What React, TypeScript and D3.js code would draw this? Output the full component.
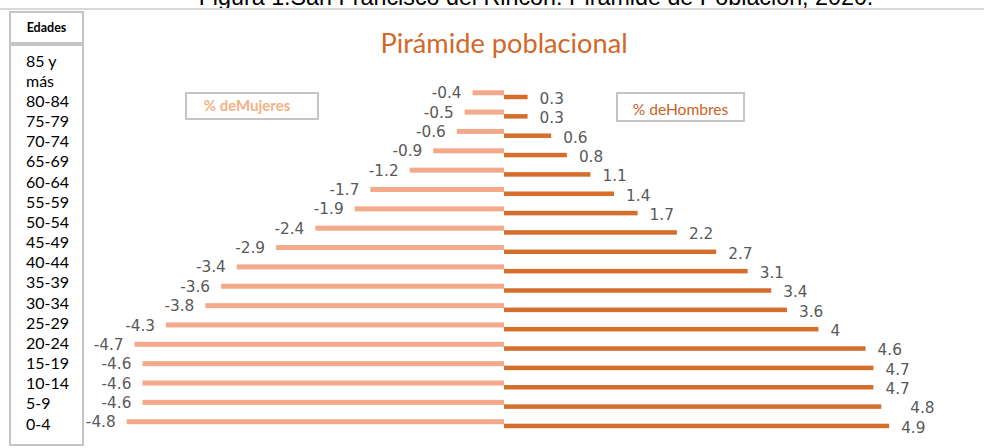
import React from "react";
import * as d3 from "d3";

const ageGroups = [
  "85 y más", "80-84", "75-79", "70-74", "65-69", "60-64", "55-59", "50-54", "45-49",
  "40-44", "35-39", "30-34", "25-29", "20-24", "15-19", "10-14", "5-9", "0-4",
];
const mujeres = [-0.4, -0.5, -0.6, -0.9, -1.2, -1.7, -1.9, -2.4, -2.9, -3.4, -3.6, -3.8, -4.3, -4.7, -4.6, -4.6, -4.6, -4.8];
const hombres = [0.3, 0.3, 0.6, 0.8, 1.1, 1.4, 1.7, 2.2, 2.7, 3.1, 3.4, 3.6, 4, 4.6, 4.7, 4.7, 4.8, 4.9];
const seriesNames = ["% deMujeres", "% deHombres"];
const chartTitle = "Pirámide poblacional";
const figureTitle = "Figura 1.San Francisco del Rincón: Pirámide de Población, 2020.";
const axisTitle = "Edades";

const W = 984;
const H = 448;
const COL_F = "#F4AA8A";
const COL_M = "#D56D2B";
const LABEL_COL = "#595959";
const BOX_COL = "#C4C4C4";
const labelFont = "'DejaVu Sans', sans-serif";
const textFont = "Lato, 'Liberation Sans', sans-serif";

// manual label nudges (as in the source chart)
const maleLabelExtra: Record<string, number> = { "5-9": 17 };

export default function App() {
  const x = d3.scaleLinear().domain([-5, 5]).range([111, 897]);
  const step = 19.35;
  const y = d3
    .scaleBand<string>()
    .domain(ageGroups)
    .range([85.075, 85.075 + step * ageGroups.length])
    .padding(0);
  const bw = y.bandwidth();
  const ySub = d3
    .scaleBand<string>()
    .domain(seriesNames)
    .range([bw / 2 - 4.5, bw / 2 + 4.5]);
  const sh = ySub.bandwidth();

  const axisLines: string[] = [];
  ageGroups.forEach((g) => {
    if (g.includes(" y ")) {
      const idx = g.indexOf(" y ") + 2;
      axisLines.push(g.slice(0, idx), g.slice(idx + 1));
    } else axisLines.push(g);
  });

  return (
    <svg
      width={W}
      height={H}
      style={{ position: "absolute", left: 0, top: 0, background: "#fff" }}
      xmlns="http://www.w3.org/2000/svg"
    >
      <rect x={0} y={0} width={W} height={H} fill="#fff" />
      {/* figure title, cut off at the top edge as in the source image */}
      <text x={536} y={4.5} textAnchor="middle" fontFamily="'Liberation Sans', Arial, sans-serif" fontSize={23.3} fill="#000">
        {figureTitle}
      </text>
      <line x1={0} x2={W} y1={9} y2={9} stroke="#D9D9D9" strokeWidth={2} />

      {/* axis title box */}
      <rect x={10} y={12} width={73} height={31} fill="#fff" stroke={BOX_COL} strokeWidth={2} />
      <text x={46.5} y={32} textAnchor="middle" fontFamily={textFont} fontWeight="bold" fontSize={12.5} fill="#000">
        {axisTitle}
      </text>
      <rect x={10} y={45} width={73} height={400} fill="#fff" stroke={BOX_COL} strokeWidth={2} />
      {axisLines.map((t, i) => (
        <text key={i} x={26} y={66.5 + i * 20.17} fontFamily={textFont} fontSize={16} fill="#000">
          {t}
        </text>
      ))}

      {/* chart title */}
      <text x={504} y={53} textAnchor="middle" fontFamily={textFont} fontSize={27.2} fill="#D2672A">
        {chartTitle}
      </text>

      {/* legend boxes */}
      <rect x={186} y={93} width={132} height={26} fill="#fff" stroke={BOX_COL} strokeWidth={2} />
      <text x={247} y={110.5} textAnchor="middle" fontFamily={textFont} fontWeight="bold" fontSize={15} fill="#F4B183">
        {seriesNames[0]}
      </text>
      <rect x={617} y={93} width={127} height={28} fill="#fff" stroke={BOX_COL} strokeWidth={2} />
      <text x={680.5} y={115} textAnchor="middle" fontFamily={textFont} fontSize={15.6} fill="#C96225">
        {seriesNames[1]}
      </text>

      {/* bars */}
      {ageGroups.map((g, i) => {
        const y0 = y(g)!;
        const yf = y0 + ySub(seriesNames[0])!;
        const ym = y0 + ySub(seriesNames[1])!;
        const vf = mujeres[i];
        const vm = hombres[i];
        return (
          <g key={g}>
            <rect x={x(vf)} y={yf} width={x(0) - x(vf)} height={sh + 0.5} fill={COL_F} />
            <rect x={x(0)} y={ym} width={x(vm) - x(0)} height={sh} fill={COL_M} />
            <text
              x={x(vf) - 11}
              y={yf + sh / 2 + 5.8}
              textAnchor="end"
              fontFamily={labelFont}
              fontSize={15.3}
              fill={LABEL_COL}
            >
              {String(vf)}
            </text>
            <text
              x={x(vm) + 12 + (maleLabelExtra[g] || 0)}
              y={ym + sh / 2 + 6.8}
              textAnchor="start"
              fontFamily={labelFont}
              fontSize={15.3}
              fill={LABEL_COL}
            >
              {String(vm)}
            </text>
          </g>
        );
      })}
    </svg>
  );
}
